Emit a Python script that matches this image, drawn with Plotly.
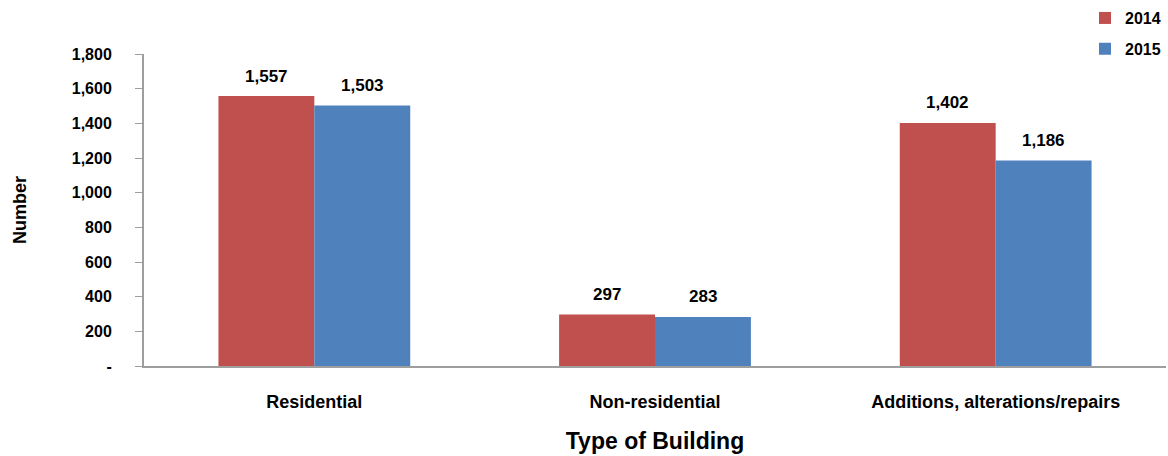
import plotly.graph_objects as go

categories = ["Residential", "Non-residential", "Additions, alterations/repairs"]
series_names = ["2014", "2015"]
values_2014 = [1557, 297, 1402]
values_2015 = [1503, 283, 1186]
colors = ["#C0504D", "#4F81BD"]
y_tickvals = [0, 200, 400, 600, 800, 1000, 1200, 1400, 1600, 1800]
y_ticktext = ["-", "200", "400", "600", "800", "1,000", "1,200", "1,400", "1,600", "1,800"]

FONT = "Liberation Sans, Arial, sans-serif"
BARGAP = 0.437

fig = go.Figure()
for name, vals, col in zip(series_names, [values_2014, values_2015], colors):
    fig.add_trace(go.Bar(
        x=categories, y=vals, name=name, legendgroup=name,
        marker=dict(color=col, line=dict(width=0)),
    ))

# data labels as annotations above bars (centred on each bar of the group)
half = (1 - BARGAP) / 4
offsets = [-half, half]
for vals, off in zip([values_2014, values_2015], offsets):
    for i, v in enumerate(vals):
        fig.add_annotation(
            x=i + off, y=v, xref="x", yref="y",
            text=f"<b>{v:,}</b>", showarrow=False,
            yshift=20, font=dict(family=FONT, size=17, color="black"),
        )

fig.update_layout(
    width=1168, height=456,
    margin=dict(l=144, r=2, t=53, b=90),
    paper_bgcolor="white", plot_bgcolor="white",
    barmode="group", bargap=BARGAP, bargroupgap=0,
    font=dict(family=FONT, size=14, color="black"),
    legend=dict(
        x=1.0, xanchor="right", y=1.166, yanchor="top",
        font=dict(family=FONT, size=16, color="black", weight="bold"),
        traceorder="grouped", tracegroupgap=7, bgcolor="rgba(0,0,0,0)",
    ),
    xaxis=dict(
        type="category", showline=True, linecolor="#9E9E9E", linewidth=2,
        showgrid=False, ticks="", ticklabelstandoff=18,
        tickfont=dict(family=FONT, size=18, weight="bold"),
        title=dict(text="<b>Type of Building</b>", font=dict(family=FONT, size=23), standoff=22),
    ),
    yaxis=dict(
        range=[0, 1800], tickvals=y_tickvals, ticktext=y_ticktext,
        showline=True, linecolor="#9E9E9E", linewidth=2, showgrid=False,
        ticks="outside", ticklen=7, tickcolor="#9E9E9E", tickwidth=1,
        ticklabelstandoff=20,
        tickfont=dict(family=FONT, size=16, weight="bold"),
        title=dict(text="<b>Number</b>", font=dict(family=FONT, size=18), standoff=40),
        zeroline=False,
    ),
)

fig.write_html("out.html")
